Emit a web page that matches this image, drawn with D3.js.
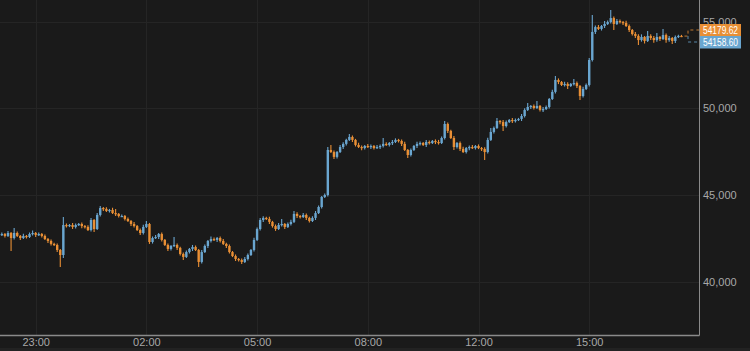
<!DOCTYPE html>
<html>
<head>
<meta charset="utf-8">
<script src="https://cdn.jsdelivr.net/npm/d3@7"></script>
<style>
  html, body { margin: 0; padding: 0; background: #1a1a1a; }
  svg { display: block; }
</style>
</head>
<body>
<div id="chart"></div>
<script>
// 5 minute candles, open of each candle = close of the one before
var firstOpen = 42700;

var closes = [
  42750,42640,42810,42520,42810,42640,42520,42640,42580,42750,42810,42700,42750,42640,42460,42350,42180,42120,41830,41540,
  43270,43210,43270,43160,43270,43330,43210,43160,42980,43560,43040,43850,44250,44200,44080,44140,43960,43910,43790,43790,
  43620,43500,43330,43210,42980,42810,43160,43330,42290,42520,42580,42750,42410,42120,41890,42060,42120,41950,41600,41430,
  41710,41890,42000,41830,41140,41710,42060,42350,42460,42410,42520,42350,42180,42060,41710,41480,41310,41250,41140,41310,
  41540,41830,42410,43040,43560,43680,43620,43450,43210,43040,43270,43330,43160,43330,43450,43910,43790,43730,43850,43680,
  43500,43680,43960,44310,44890,45000,47600,47480,47200,47480,47770,47950,48180,48350,48180,47890,47770,47710,47830,47770,
  47830,47710,47770,47830,47950,47890,48000,48060,48180,48120,47950,47600,47310,47600,47830,47950,48000,47890,48060,48000,
  48120,48060,48000,48290,49100,48700,48290,47770,48000,47660,47480,47710,47770,47710,47830,47710,47660,47480,48180,48640,
  48870,49270,49210,48980,49210,49330,49270,49330,49390,49560,49910,50080,50140,50020,50140,49910,49960,50080,50540,50950,
  51640,51520,51350,51410,51290,51410,51460,51290,50710,51120,51350,52790,54410,54690,54580,54750,54870,54980,55210,54870,
  55040,54980,54930,54750,54520,54290,54180,53940,54120,53890,54180,54060,53940,54120,54000,54230,53940,54060,53890,54120,
  54180,54170
];

var wickUp = [
  90,60,120,60,290,90,60,120,60,90,150,60,90,60,90,60,90,60,90,60,
  460,90,60,120,90,60,90,60,90,120,60,120,120,60,90,60,120,240,60,90,
  60,90,60,120,60,90,120,170,60,90,120,60,90,60,90,60,460,90,60,90,
  90,60,120,90,60,120,90,60,150,90,60,90,120,60,90,60,90,60,90,120,
  90,60,120,90,120,90,60,120,60,90,120,290,60,90,120,170,90,60,120,90,
  60,90,120,90,60,90,170,290,90,60,120,90,60,170,90,60,120,90,60,120,
  90,60,120,90,340,90,60,120,90,60,90,120,60,90,60,120,90,60,120,90,
  60,90,120,90,170,90,60,120,60,90,120,60,90,120,60,90,60,90,120,230,
  90,180,60,120,90,60,120,90,60,120,90,230,60,90,290,60,120,90,60,120,
  230,90,60,120,90,60,230,90,60,120,90,120,980,90,120,60,170,90,470,90,
  120,90,60,120,90,60,120,90,150,60,280,90,120,230,60,350,90,120,60,90,
  60,60
];

var wickDown = [
  60,90,60,750,90,60,120,60,90,60,90,120,60,90,60,120,90,60,120,690,
  170,90,60,120,90,60,120,90,60,90,170,60,90,120,60,90,60,120,90,60,
  90,60,120,90,60,120,90,60,110,90,60,120,90,60,120,90,60,120,90,180,
  60,90,120,60,290,90,60,120,90,60,120,90,60,120,90,60,120,90,120,60,
  90,60,90,60,90,120,60,120,90,110,60,90,120,60,90,60,120,90,60,120,
  90,60,120,60,90,60,90,60,120,90,60,120,90,60,120,90,60,120,90,60,
  120,90,60,120,90,60,90,120,60,90,120,60,170,90,60,120,90,60,120,90,
  60,120,90,60,90,120,60,170,90,120,60,90,120,60,90,60,120,460,90,60,
  90,60,120,280,90,60,120,90,60,120,90,60,120,90,60,90,120,60,90,60,
  90,120,60,90,170,60,90,120,230,90,60,90,90,120,60,90,120,60,90,350,
  60,90,120,60,120,90,120,280,90,150,60,120,150,90,120,60,150,90,180,120,
  60,60
];

var tickCandles = [11, 47, 83, 119, 155, 191];
var tickLabels = ["23:00", "02:00", "05:00", "08:00", "12:00", "15:00"];
var yTicks = [40000, 45000, 50000, 55000];

var askPrice = "54179.62";
var bidPrice = "54158.60";

const up_colour = "#6aa6d0";
const down_colour = "#e98f35";
const grid_colour = "#252525";

var W = 750, H = 351;
var plotW = 699, plotH = 335;

var candles = closes.map(function(c, i) {
  var o = i === 0 ? firstOpen : closes[i - 1];
  return {
    i: i,
    open: o,
    close: c,
    high: Math.max(o, c) + (wickUp[i] || 80),
    low: Math.min(o, c) - (wickDown[i] || 80)
  };
});

var x = d3.scaleLinear().domain([-0.6, 226.7]).range([0, plotW]);
var y = d3.scaleLinear().domain([40000, 55000]).range([281.7, 21.7]);

var svg = d3.select("#chart").append("svg")
  .attr("width", W)
  .attr("height", H)
  .style("font-family", "'Liberation Sans', Arial, sans-serif");

svg.append("rect").attr("width", W).attr("height", H).attr("fill", "#1a1a1a");
svg.append("rect").attr("y", 348).attr("width", W).attr("height", 3).attr("fill", "#222222");

// grid
svg.append("g").selectAll("line.h")
  .data(yTicks)
  .enter().append("line")
  .attr("x1", 0).attr("x2", plotW)
  .attr("y1", function(d) { return Math.round(y(d)) + 0.5; })
  .attr("y2", function(d) { return Math.round(y(d)) + 0.5; })
  .attr("stroke", grid_colour);

svg.append("g").selectAll("line.v")
  .data(tickCandles)
  .enter().append("line")
  .attr("y1", 0).attr("y2", plotH)
  .attr("x1", function(d) { return Math.round(x(d)) + 0.5; })
  .attr("x2", function(d) { return Math.round(x(d)) + 0.5; })
  .attr("stroke", grid_colour);

// candles
var cg = svg.append("g");

cg.selectAll("line.wick")
  .data(candles)
  .enter().append("line")
  .attr("class", "wick")
  .attr("x1", function(d) { return x(d.i); })
  .attr("x2", function(d) { return x(d.i); })
  .attr("y1", function(d) { return y(d.high); })
  .attr("y2", function(d) { return y(d.low); })
  .attr("stroke", function(d) { return d.close >= d.open ? up_colour : down_colour; })
  .attr("stroke-width", 1.1);

cg.selectAll("rect.body")
  .data(candles)
  .enter().append("rect")
  .attr("class", "body")
  .attr("x", function(d) { return x(d.i) - 1.2; })
  .attr("width", 2.4)
  .attr("y", function(d) { return y(Math.max(d.open, d.close)); })
  .attr("height", function(d) { return Math.max(1.2, Math.abs(y(d.open) - y(d.close))); })
  .attr("fill", function(d) { return d.close >= d.open ? up_colour : down_colour; });

// axis frame
svg.append("line")
  .attr("x1", 0).attr("x2", plotW + 0.5)
  .attr("y1", plotH + 0.5).attr("y2", plotH + 0.5)
  .attr("stroke", "#8a8a8a").attr("stroke-width", 1.5);
svg.append("line")
  .attr("x1", plotW + 0.5).attr("x2", plotW + 0.5)
  .attr("y1", 0).attr("y2", plotH + 0.5)
  .attr("stroke", "#8a8a8a").attr("stroke-width", 1);

// x axis labels
var xAxis = d3.axisBottom(x)
  .tickValues(tickCandles)
  .tickFormat(function(d, i) { return tickLabels[i]; })
  .tickSize(0)
  .tickPadding(0);

var xg = svg.append("g")
  .attr("transform", "translate(0," + 338 + ")")
  .call(xAxis);
xg.select(".domain").remove();
xg.selectAll("text")
  .attr("fill", "#a8a8a8")
  .attr("font-size", "11px")
  .attr("dy", "0.71em")
  .style("font-family", "'Liberation Sans', Arial, sans-serif");

// y axis labels
var yAxis = d3.axisRight(y)
  .tickValues(yTicks)
  .tickFormat(d3.format(","))
  .tickSize(0)
  .tickPadding(4);

var yg = svg.append("g")
  .attr("transform", "translate(" + plotW + ",0)")
  .call(yAxis);
yg.select(".domain").remove();
yg.selectAll("text")
  .attr("fill", "#a8a8a8")
  .attr("font-size", "11px")
  .style("font-family", "'Liberation Sans', Arial, sans-serif");

// last price markers
var last = candles[candles.length - 1];
var lastY = y(last.close);
var askY = 30, bidY = 42, bx = 688;

svg.append("path")
  .attr("d", "M" + (x(last.i) + 3) + "," + lastY + "H" + bx + "V" + askY + "H" + plotW)
  .attr("fill", "none").attr("stroke", down_colour).attr("stroke-width", 1)
  .attr("stroke-dasharray", "3,3").attr("opacity", 0.8);
svg.append("path")
  .attr("d", "M" + bx + "," + lastY + "V" + bidY + "H" + plotW)
  .attr("fill", "none").attr("stroke", up_colour).attr("stroke-width", 1)
  .attr("stroke-dasharray", "3,3").attr("opacity", 0.8);

svg.append("rect").attr("x", 700).attr("y", 24).attr("width", 41).attr("height", 12).attr("fill", down_colour);
svg.append("rect").attr("x", 700).attr("y", 36).attr("width", 41).attr("height", 12.5).attr("fill", up_colour);

svg.append("text").attr("x", 703).attr("y", 30).attr("dy", "0.35em")
  .attr("fill", "#ffffff").attr("font-size", "10px")
  .attr("textLength", 35).attr("lengthAdjust", "spacingAndGlyphs").text(askPrice);
svg.append("text").attr("x", 703).attr("y", 42.3).attr("dy", "0.35em")
  .attr("fill", "#ffffff").attr("font-size", "10px")
  .attr("textLength", 35).attr("lengthAdjust", "spacingAndGlyphs").text(bidPrice);
</script>
</body>
</html>
